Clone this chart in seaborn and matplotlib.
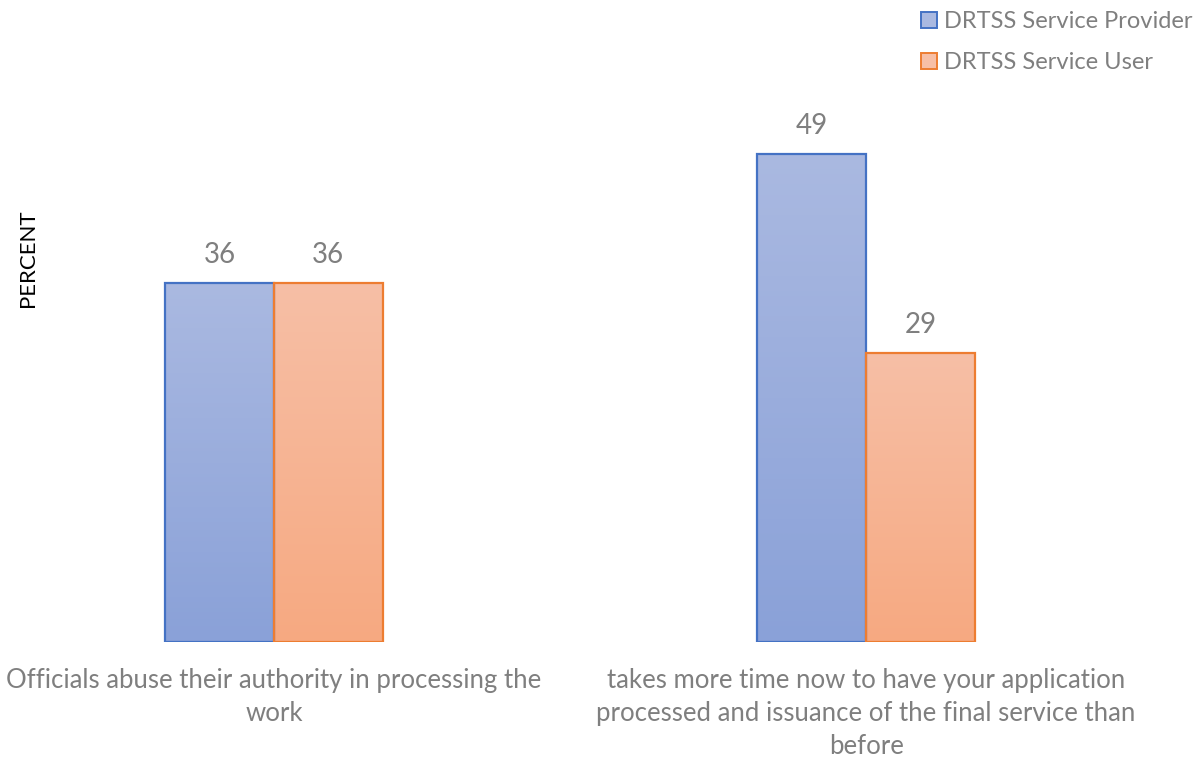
import numpy as np
import pandas as pd
import matplotlib
matplotlib.use("Agg")
import matplotlib.pyplot as plt
from matplotlib.colors import LinearSegmentedColormap
from matplotlib.patches import Patch
import seaborn as sns

# Survey results (percent)
categories = [
    "Officials abuse their authority in processing the\nwork",
    "takes more time now to have your application\nprocessed and issuance of the final service than\nbefore",
]
series = ["DRTSS Service Provider", "DRTSS Service User"]
provider_values = [36, 49]
user_values = [36, 29]

df = pd.DataFrame({
    "category": categories * 2,
    "group": [series[0]] * 2 + [series[1]] * 2,
    "value": provider_values + user_values,
})

edge_colors = {series[0]: "#4472C4", series[1]: "#ED7D31"}
# light at the top, deeper at the bottom
grad_colors = {
    series[0]: ("#AAB9E1", "#8AA1D8"),
    series[1]: ("#F7BFA6", "#F6A981"),
}

sns.set_theme(style="white")
plt.rcParams["font.family"] = ["Lato", "DejaVu Sans"]

fig = plt.figure(figsize=(12.04, 7.6), dpi=100)
W, H = 1204, 760
ax_left, ax_right, ax_top, ax_bottom = 60, 1190, 94, 642
ax = fig.add_axes([ax_left / W, 1 - ax_bottom / H,
                   (ax_right - ax_left) / W, (ax_bottom - ax_top) / H])

sns.barplot(data=df, x="category", y="value", hue="group", hue_order=series,
            order=categories, width=0.367, ax=ax, legend=False,
            palette=[edge_colors[s] for s in series])

ax.set_ylim(0, 55)
ax.set_xlim(-0.3615, 1.547)

# gradient fill clipped to each bar, with a solid outline
for container, name in zip(ax.containers, series):
    cmap = LinearSegmentedColormap.from_list(name, [grad_colors[name][1], grad_colors[name][0]])
    for bar in container:
        x0, y0 = bar.get_x(), bar.get_y()
        w, h = bar.get_width(), bar.get_height()
        grad = np.linspace(0, 1, 256).reshape(-1, 1)
        im = ax.imshow(grad, cmap=cmap, aspect="auto", origin="lower",
                       extent=(x0, x0 + w, y0, y0 + h), zorder=1,
                       interpolation="bicubic")
        im.set_clip_path(bar)
        bar.set_facecolor("none")
        bar.set_edgecolor(edge_colors[name])
        bar.set_linewidth(1.6)
        bar.set_zorder(2)
    ax.bar_label(container, fmt="%d", padding=11, fontsize=20, color="#7F7F7F")

ax.set_xlim(-0.3615, 1.547)
ax.set_ylim(0, 55)

for side in ["top", "right", "left", "bottom"]:
    ax.spines[side].set_visible(False)
ax.set_yticks([])
ax.set_xlabel("")
ax.tick_params(axis="x", length=0, pad=19, labelsize=18.5, labelcolor="#7F7F7F")
for lbl in ax.get_xticklabels():
    lbl.set_linespacing(1.38)
    lbl.set_verticalalignment("top")

ax.set_ylabel("PERCENT", fontsize=16, color="black")
ax.yaxis.set_label_coords((38 - ax_left) / (ax_right - ax_left), (ax_bottom - 258) / (ax_bottom - ax_top))

handles = [Patch(facecolor=grad_colors[s][0], edgecolor=edge_colors[s], linewidth=1.4, label=s)
           for s in series]
leg = fig.legend(handles=handles, loc="upper right", bbox_to_anchor=(1195 / W, 1 - 9 / H),
                 frameon=False, fontsize=17, handlelength=0.7, handleheight=0.7,
                 handletextpad=0.3, labelspacing=0.85, borderaxespad=0, borderpad=0.1,
                 labelcolor="#7F7F7F")

fig.savefig("out.png", dpi=100)
